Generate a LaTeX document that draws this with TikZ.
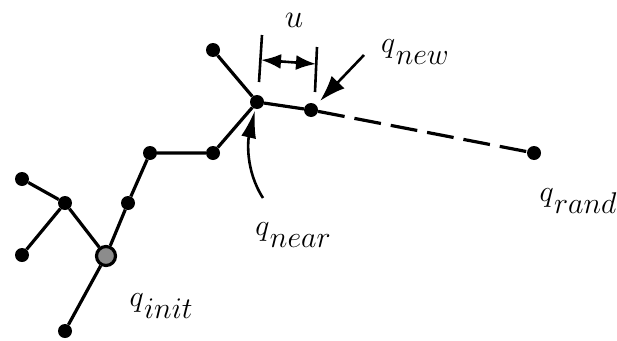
\RequirePackage{fix-cm}
\documentclass[tikz,border=0pt]{standalone}
\usetikzlibrary{arrows.meta}
\tikzset{
  pt/.style={circle,fill=black,inner sep=0pt,minimum size=14pt},
  initpt/.style={circle,fill=black!45,draw=black,line width=3.2pt,inner sep=0pt,minimum size=19pt},
  edge/.style={line width=3.2pt},
  lab/.style={inner sep=0pt,font=\fontsize{30}{34}\selectfont},
  ann/.style={line width=2.6pt},
}
\newcommand\qlab[1]{$q$\kern0.5pt\raisebox{-0.38em}{$#1$}}
\begin{document}
\begin{tikzpicture}[x=1pt,y=-1pt]
\useasboundingbox (0,0) rectangle (617,340);
% nodes
\node[pt] (a1) at (22,179) {};
\node[pt] (a) at (65,203) {};
\node[pt] (a2) at (22,255) {};
\node[pt] (bot) at (65,331) {};
\node[pt] (b) at (128,203) {};
\node[pt] (c) at (150,153) {};
\node[pt] (d) at (213,153) {};
\node[pt] (near) at (257,102) {};
\node[pt] (top) at (213,50) {};
\node[pt] (new) at (311,110) {};
\node[pt] (rand) at (534,153) {};
\node[initpt] (init) at (106,256) {};
% edges
\draw[edge] (a1) -- (a) (a) -- (a2) (a) -- (init) (init) -- (bot) (init) -- (b)
  (b) -- (c) (c) -- (d) (d) -- (near) (near) -- (top) (near) -- (new);
\draw[edge,dash pattern=on 27pt off 10pt] (new) -- (rand);
% labels
\node[lab] (lnew) at (415,52) {\qlab{new}};
\node[lab] (lnear) at (293,235) {\qlab{near}};
\node[lab] (linit) at (161,306) {\qlab{init}};
\node[lab] (lrand) at (578,201) {\qlab{rand}};
\node[lab,font=\fontsize{33}{36}\selectfont] (lu) at (294,20) {$u$};
% dimension u
\coordinate (t1a) at (262,35); \coordinate (t1b) at (259,82);
\coordinate (t2a) at (317,47); \coordinate (t2b) at (315,92);
\draw[ann] (t1a) -- (t1b);
\draw[ann] (t2a) -- (t2b);
\coordinate (d1) at (261,60); \coordinate (d2) at (316,64);
\draw[ann,{Latex[length=20pt,width=15pt]}-{Latex[length=20pt,width=15pt]}] (d1) -- (d2);
% q_new arrow
\coordinate (an1) at (364,55); \coordinate (an2) at (320,101);
\draw[ann,-{Latex[length=26pt,width=18pt]}] (an1) -- (an2);
% q_near arrow
\coordinate (ar1) at (263,198); \coordinate (ar2) at (255,110);
\draw[ann,-{Latex[length=28pt,width=15pt]}] (ar1) .. controls (245,170) and (248,140) .. (ar2);
\end{tikzpicture}
\end{document}
